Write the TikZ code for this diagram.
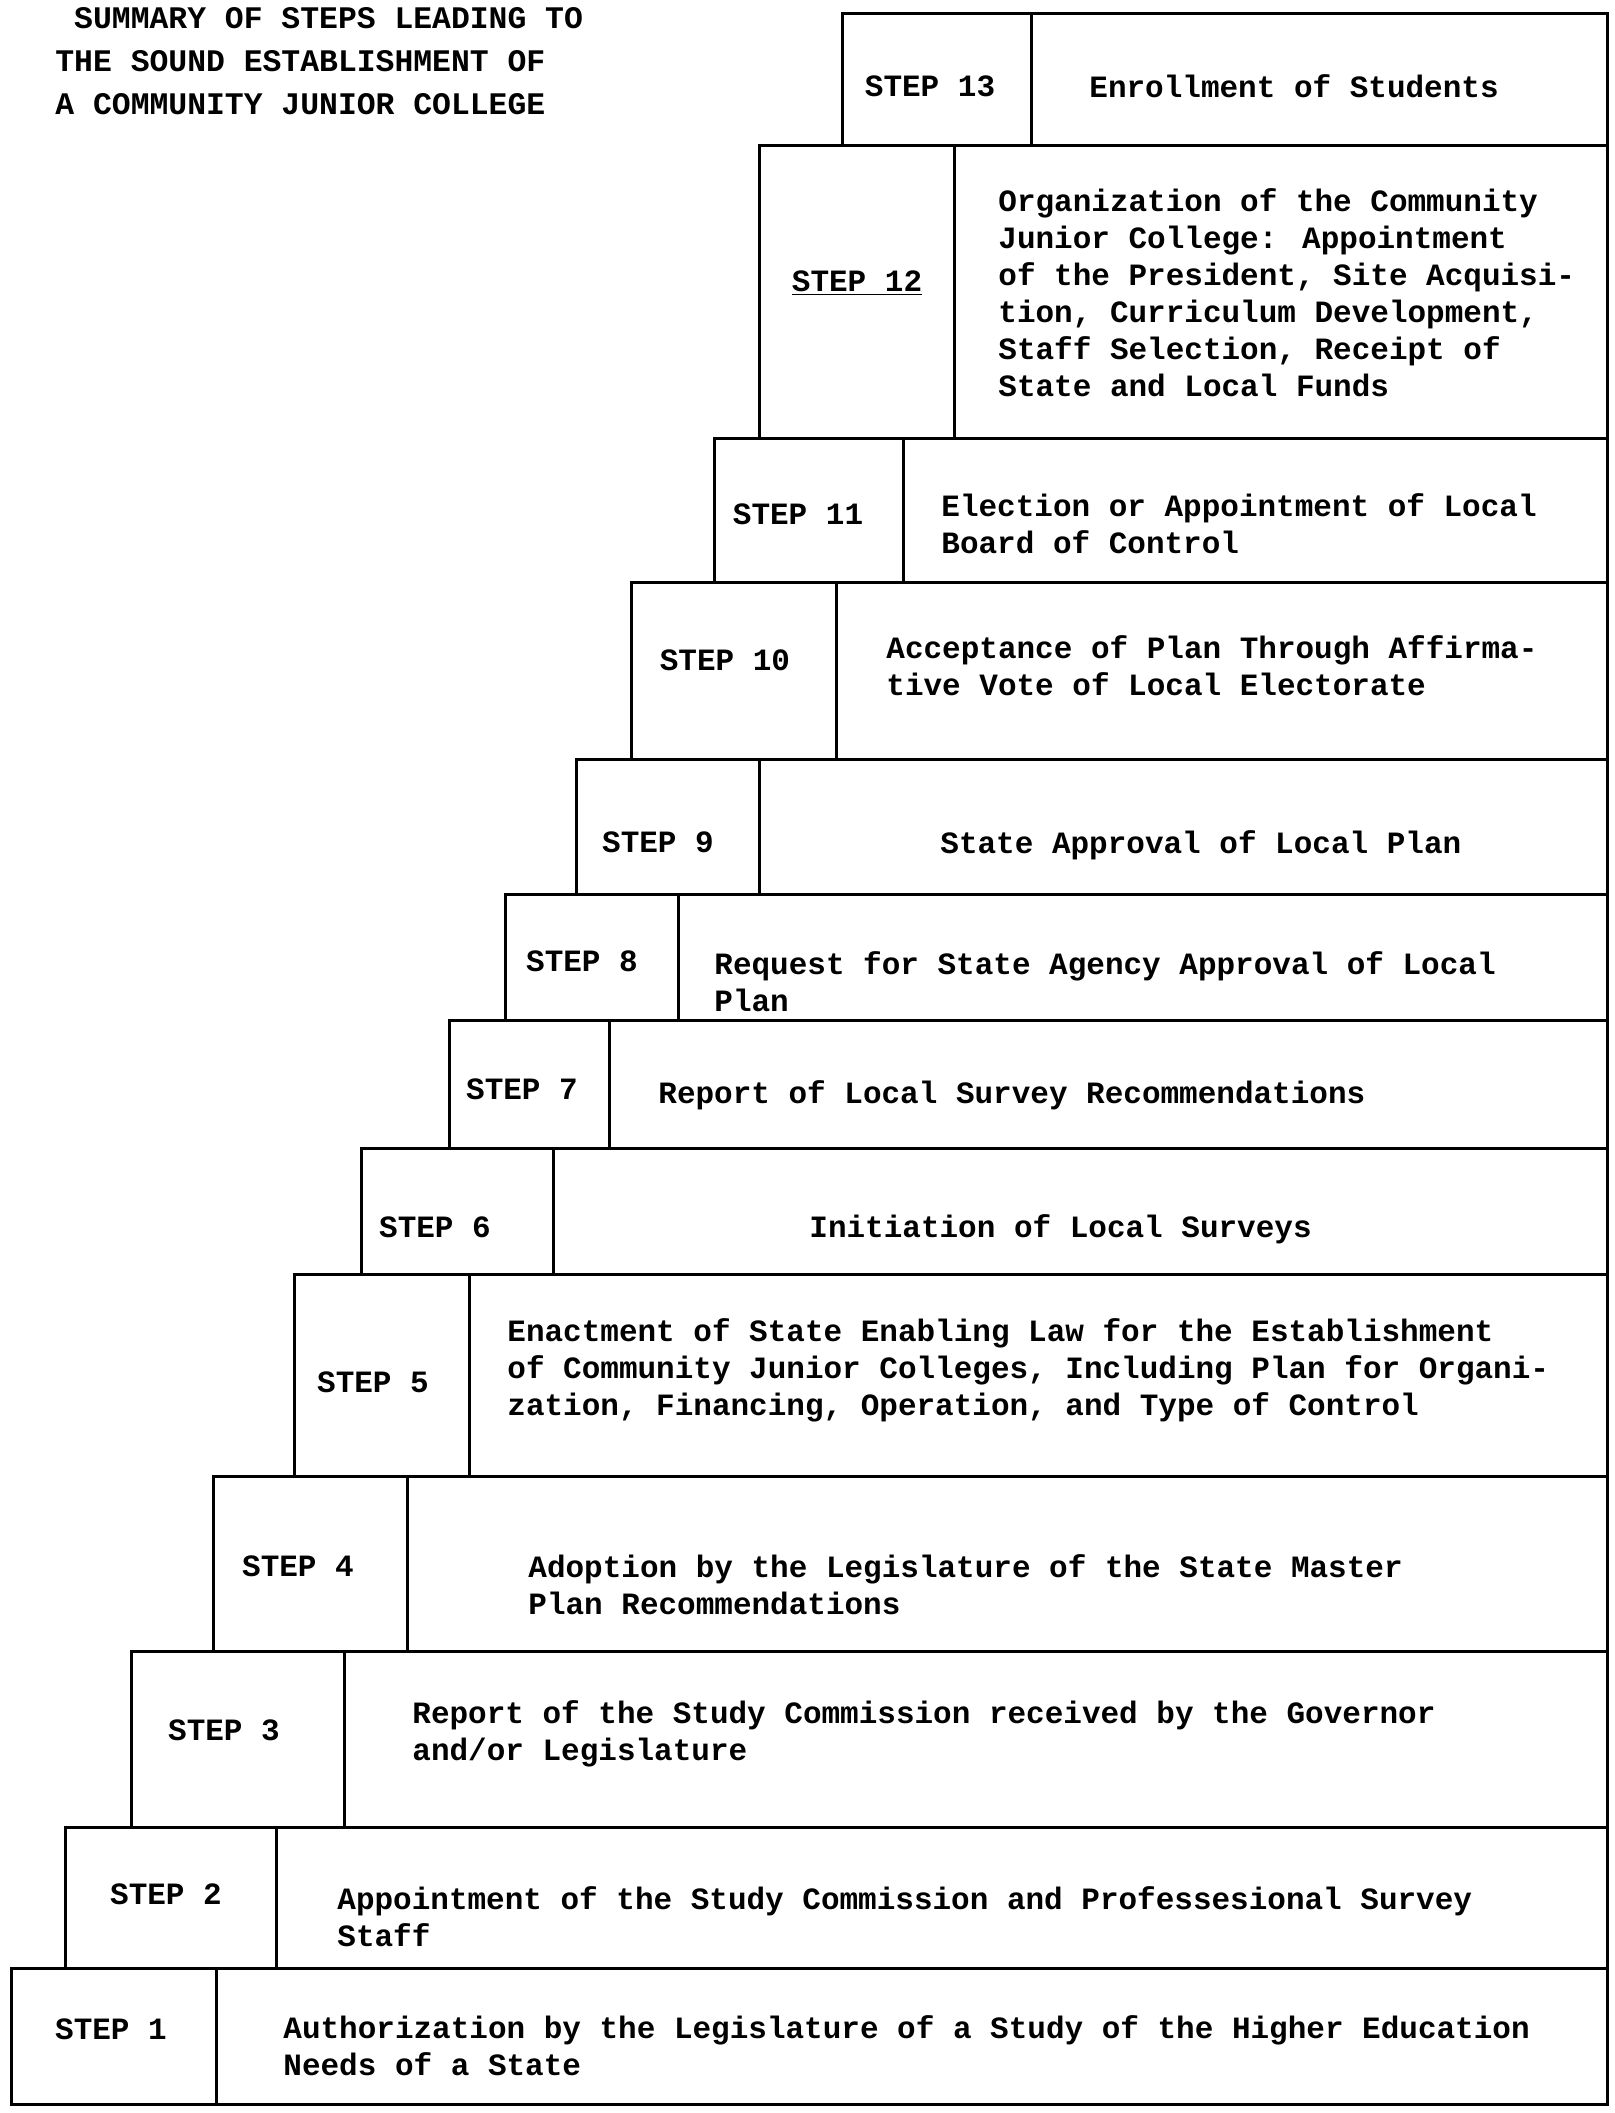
\documentclass[tikz,border=0pt]{standalone}
\usepackage{fontspec}
\setmainfont{Liberation Mono}
\begin{document}
\begin{tikzpicture}[x=0.5pt,y=-0.5pt,
  box/.style={line width=1.5pt, line join=miter},
  lab/.style={font=\fontsize{15.5}{18.5}\selectfont\bfseries, inner sep=0pt},
  txt/.style={lab, anchor=west, align=left}]
\useasboundingbox[fill=white] (0,0) rectangle (1615,2113);
% rows: top/bottom/left/divider
\foreach \tp/\bt/\lf/\dv in {14/146/842/1031, 146/438/759/954, 438/582/714/903,
  582/759/631/836, 759/894/576/759, 894/1020/505/678, 1020/1148/449/609,
  1148/1274/361/553, 1274/1476/294/469, 1476/1651/213/407, 1651/1827/131/344,
  1827/1968/65/276, 1968/2104/11/216}{
  \draw[box] (\lf,\tp) rectangle (1607,\bt);
  \draw[box] (\dv,\tp) -- (\dv,\bt);
}
% title
\node[txt, font=\fontsize{15.7}{21.5}\selectfont\bfseries] (title) at (55,61)
  {\ SUMMARY OF STEPS LEADING TO\\THE SOUND ESTABLISHMENT OF\\A COMMUNITY JUNIOR COLLEGE};
% step labels
\node[lab] (l13) at (930,86) {STEP 13};
\node[lab] (l12) at (857,283) {\underline{STEP 12}};
\node[lab] (l11) at (798,514) {STEP 11};
\node[lab] (l10) at (725,660) {STEP 10};
\node[lab] (l9) at (658,842) {STEP 9};
\node[lab] (l8) at (582,961) {STEP 8};
\node[lab] (l7) at (522,1089) {STEP 7};
\node[lab] (l6) at (435,1227) {STEP 6};
\node[lab] (l5) at (373,1382) {STEP 5};
\node[lab] (l4) at (298,1566) {STEP 4};
\node[lab] (l3) at (224,1730) {STEP 3};
\node[lab] (l2) at (166,1894) {STEP 2};
\node[lab] (l1) at (111,2029) {STEP 1};
% contents
\node[txt] (t13) at (1089,86) {Enrollment of Students};
\node[txt] (t12) at (998,293) {Organization of the Community\\Junior College:  Appointment\\of the President, Site Acquisi-\\tion, Curriculum Development,\\Staff Selection, Receipt of\\State and Local Funds};
\node[txt] (t11) at (941,524) {Election or Appointment of Local\\Board of Control};
\node[txt] (t10) at (886,666) {Acceptance of Plan Through Affirma-\\tive Vote of Local Electorate};
\node[txt] (t9) at (940,845) {State Approval of Local Plan};
\node[txt] (t8) at (714,982) {Request for State Agency Approval of Local\\Plan};
\node[txt] (t7) at (658,1095) {Report of Local Survey Recommendations};
\node[txt] (t6) at (809,1229) {Initiation of Local Surveys};
\node[txt] (t5) at (507,1370) {Enactment of State Enabling Law for the Establishment\\of Community Junior Colleges, Including Plan for Organi-\\zation, Financing, Operation, and Type of Control};
\node[txt] (t4) at (528,1585) {Adoption by the Legislature of the State Master\\Plan Recommendations};
\node[txt] (t3) at (412,1734) {Report of the Study Commission received by the Governor\\and/or Legislature};
\node[txt] (t2) at (337,1917) {Appointment of the Study Commission and Professesional Survey\\Staff};
\node[txt] (t1) at (283,2046) {Authorization by the Legislature of a Study of the Higher Education\\Needs of a State};
\end{tikzpicture}
\end{document}
